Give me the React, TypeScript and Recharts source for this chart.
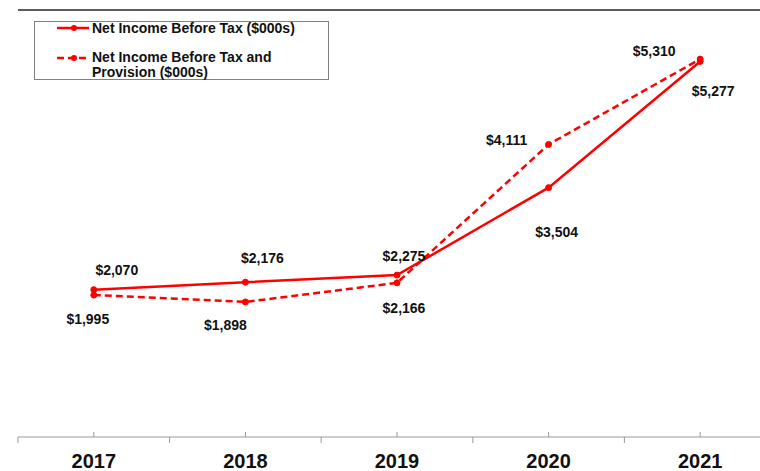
import React from 'react';
import { LineChart, Line, XAxis, YAxis, ReferenceLine, Legend } from 'recharts';

const years = ['2017', '2018', '2019', '2020', '2021'];
const netIncomeBeforeTax = [2070, 2176, 2275, 3504, 5277];
const netIncomeBeforeTaxAndProvision = [1995, 1898, 2166, 4111, 5310];
const yDomain = [0, 6000];

// label placement offsets (dx, dy) relative to each point
const solidLabelOffsets = [[23, -20], [17, -24], [7, -19], [8, 44], [13, 30]];
const dashedLabelOffsets = [[-6, 24], [-20, 23], [7, 25], [-42, -4], [-46, -8]];

const data = years.map((year, i) => ({
  year,
  nibt: netIncomeBeforeTax[i],
  nibtp: netIncomeBeforeTaxAndProvision[i],
}));

const RED = '#ff0000';
const FONT = '"Liberation Sans", Arial, sans-serif';
const CHART_W = 790;
const MARGIN = { top: 10, right: 14, bottom: 0, left: 18 };
const HALF_BAND = (CHART_W - MARGIN.left - MARGIN.right) / years.length / 2;

const fmt = (v: number) => '$' + v.toLocaleString('en-US');

const makeLabel = (offsets: number[][]) => (props: any) => {
  const { x, y, value, index } = props;
  const [dx, dy] = offsets[index] || [0, 0];
  return (
    <text
      x={x + dx}
      y={y + dy}
      textAnchor="middle"
      dominantBaseline="central"
      fontFamily={FONT}
      fontWeight="bold"
      fontSize={14}
      fill="#111"
    >
      {fmt(value)}
    </text>
  );
};

const YearTick = (props: any) => {
  const { x, y, payload } = props;
  return (
    <g>
      <line x1={x} y1={y} x2={x} y2={y - 5} stroke="#999" />
      <line x1={x - HALF_BAND} y1={y} x2={x - HALF_BAND} y2={y + 6} stroke="#999" />
      <text x={x} y={y + 31} textAnchor="middle" fontFamily={FONT} fontWeight="bold" fontSize={20} fill="#111">
        {payload.value}
      </text>
    </g>
  );
};

const LegendBox = () => (
  <div style={{ width: 295, height: 59, border: '1px solid #808080', boxSizing: 'border-box', background: '#fff' }}>
    <svg width={293} height={57} style={{ display: 'block', overflow: 'visible' }}>
      <g fontFamily={FONT} fontWeight="bold" fontSize={14} fill="#111">
        <line x1={22} y1={6} x2={54} y2={6} stroke={RED} strokeWidth={2.5} />
        <circle cx={39} cy={6} r={3} fill={RED} />
        <text x={57} y={11}>Net Income Before Tax ($000s)</text>
        <line x1={22} y1={36} x2={54} y2={36} stroke={RED} strokeWidth={2.5} strokeDasharray="7 4" />
        <circle cx={39} cy={36} r={3} fill={RED} />
        <text x={57} y={40}>Net Income Before Tax and</text>
        <text x={57} y={55}>Provision ($000s)</text>
      </g>
    </svg>
  </div>
);

export default function App() {
  return (
    <div style={{ position: 'absolute', left: 0, top: 0, width: 760, height: 471, overflow: 'hidden', background: '#fff' }}>
      <LineChart width={CHART_W} height={471} data={data} margin={MARGIN}>
        <XAxis
          dataKey="year"
          height={34}
          interval={0}
          tickLine={false}
          tickSize={0}
          tickMargin={0}
          padding={{ left: HALF_BAND, right: HALF_BAND }}
          axisLine={{ stroke: '#999' }}
          tick={<YearTick />}
        />
        <YAxis
          type="number"
          domain={yDomain}
          width={0}
          tick={false}
          tickLine={false}
          axisLine={{ stroke: '#999' }}
        />
        <ReferenceLine y={6000} stroke="#262626" strokeWidth={1.5} />
        <Legend
          layout="vertical"
          verticalAlign="middle"
          align="center"
          wrapperStyle={{ left: 34, top: 21, width: 295, height: 59 }}
          content={() => <LegendBox />}
        />
        <Line
          type="linear"
          dataKey="nibt"
          name="Net Income Before Tax ($000s)"
          stroke={RED}
          strokeWidth={2.5}
          dot={{ r: 3, fill: RED, stroke: RED, strokeWidth: 1 }}
          activeDot={false}
          label={makeLabel(solidLabelOffsets)}
          isAnimationActive={false}
        />
        <Line
          type="linear"
          dataKey="nibtp"
          name="Net Income Before Tax and Provision ($000s)"
          stroke={RED}
          strokeWidth={2.5}
          strokeDasharray="7 4"
          dot={{ r: 3, fill: RED, stroke: RED, strokeWidth: 1, strokeDasharray: '' }}
          activeDot={false}
          label={makeLabel(dashedLabelOffsets)}
          isAnimationActive={false}
        />
      </LineChart>
    </div>
  );
}
